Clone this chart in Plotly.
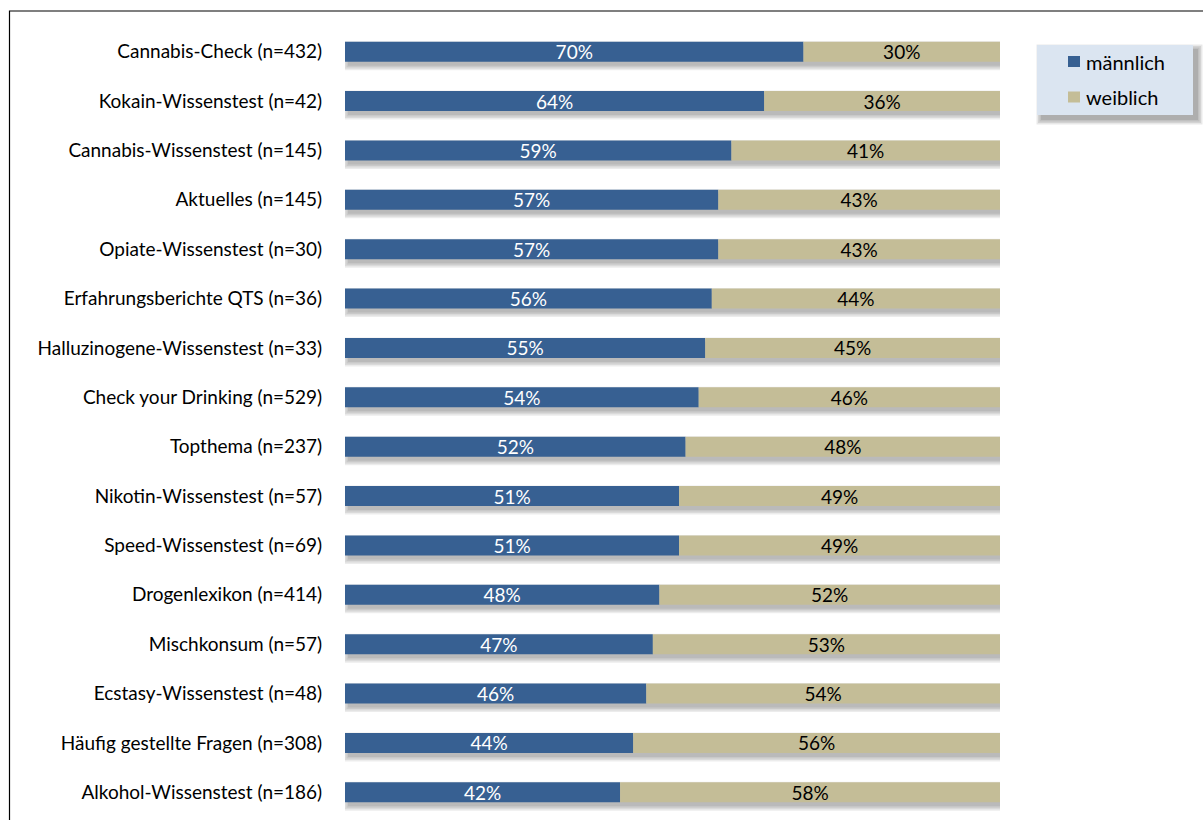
import plotly.graph_objects as go

# Share of male / female users per module (percent)
modules = [
    "Cannabis-Check (n=432)",
    "Kokain-Wissenstest (n=42)",
    "Cannabis-Wissenstest (n=145)",
    "Aktuelles (n=145)",
    "Opiate-Wissenstest (n=30)",
    "Erfahrungsberichte QTS (n=36)",
    "Halluzinogene-Wissenstest (n=33)",
    "Check your Drinking (n=529)",
    "Topthema (n=237)",
    "Nikotin-Wissenstest (n=57)",
    "Speed-Wissenstest (n=69)",
    "Drogenlexikon (n=414)",
    "Mischkonsum (n=57)",
    "Ecstasy-Wissenstest (n=48)",
    "Häufig gestellte Fragen (n=308)",
    "Alkohol-Wissenstest (n=186)",
]
maennlich = [70, 64, 59, 57, 57, 56, 55, 54, 52, 51, 51, 48, 47, 46, 44, 42]
weiblich = [30, 36, 41, 43, 43, 44, 45, 46, 48, 49, 49, 52, 53, 54, 56, 58]
series_names = ["männlich", "weiblich"]

BLUE = "#376092"
TAN = "#C4BD97"
FONT = "Lato"
FS = 19

W, H = 1203, 820
ML, MR, MT, MB = 345, 203, 27, 3
PW, PH = W - ML - MR, H - MT - MB

rows = list(range(len(modules)))
row_px = PH / len(modules)
bar_w = 20 / row_px
totals = [m + f for m, f in zip(maennlich, weiblich)]
px_per_pct = PW / 100.0

fig = go.Figure()

# soft drop shadow behind each bar (stacked translucent layers)
for k in range(4):
    grow_px = 1.5 * k
    dy = 4 / row_px
    dx = 3 / px_per_pct
    g_pct = grow_px / px_per_pct
    g_row = grow_px / row_px
    fig.add_trace(go.Bar(
        y=rows,
        x=[t + 2 * g_pct for t in totals],
        base=[dx - g_pct] * len(rows),
        orientation="h",
        width=bar_w + 2 * g_row,
        offset=-bar_w / 2 + dy - g_row,
        marker=dict(color="rgba(0,0,0,0.075)", line=dict(width=0)),
        hoverinfo="skip",
        showlegend=False,
    ))

fig.add_trace(go.Bar(
    y=rows, x=maennlich, base=[0] * len(rows), orientation="h",
    name=series_names[0], width=bar_w,
    marker=dict(color=BLUE, line=dict(width=0)),
    text=[f"{v}%" for v in maennlich], textposition="inside",
    insidetextanchor="middle",
    textfont=dict(family=FONT, size=FS, color="white"),
    showlegend=False,
))
fig.add_trace(go.Bar(
    y=rows, x=weiblich, base=maennlich, orientation="h",
    name=series_names[1], width=bar_w,
    marker=dict(color=TAN, line=dict(width=0)),
    text=[f"{v}%" for v in weiblich], textposition="inside",
    insidetextanchor="middle",
    textfont=dict(family=FONT, size=FS, color="black"),
    showlegend=False,
))


def px_x(px):
    return (px - ML) / PW


def px_y(py):
    return (H - MB - py) / PH


shapes = []
# outer frame
shapes.append(dict(type="rect", xref="paper", yref="paper",
                   x0=px_x(9.5), x1=px_x(W + 20), y0=px_y(11), y1=px_y(H + 20),
                   line=dict(color="black", width=1.2), fillcolor="rgba(0,0,0,0)"))
# legend box shadow + box
for k in range(4):
    g = 1.5 * k
    shapes.append(dict(type="rect", xref="paper", yref="paper",
                       x0=px_x(1041 - g), x1=px_x(1198 + g),
                       y0=px_y(49 - g), y1=px_y(120 + g),
                       line=dict(width=0), fillcolor="rgba(0,0,0,0.09)"))
shapes.append(dict(type="rect", xref="paper", yref="paper",
                   x0=px_x(1037), x1=px_x(1193), y0=px_y(45), y1=px_y(115),
                   line=dict(width=0), fillcolor="#DBE5F1"))
# legend swatches
for col, cy in [(BLUE, 61.5), (TAN, 97)]:
    shapes.append(dict(type="rect", xref="paper", yref="paper",
                       x0=px_x(1068), x1=px_x(1080),
                       y0=px_y(cy - 5.5), y1=px_y(cy + 5.5),
                       line=dict(width=0), fillcolor=col))

annotations = []
for name, cy in zip(series_names, [61.5, 97]):
    annotations.append(dict(xref="paper", yref="paper", x=px_x(1084), y=px_y(cy),
                            xanchor="left", yanchor="middle", text=name,
                            showarrow=False,
                            font=dict(family=FONT, size=FS + 1, color="black")))

fig.update_layout(
    width=W, height=H,
    margin=dict(l=ML, r=MR, t=MT, b=MB, pad=0),
    barmode="overlay",
    paper_bgcolor="white", plot_bgcolor="white",
    uniformtext=dict(minsize=FS, mode="show"),
    shapes=shapes, annotations=annotations,
    showlegend=False,
    xaxis=dict(range=[0, 100], visible=False, fixedrange=True),
    yaxis=dict(
        range=[len(modules) - 0.5, -0.5],
        tickmode="array", tickvals=rows, ticktext=modules,
        ticks="outside", ticklen=18, tickcolor="rgba(0,0,0,0)",
        showgrid=False, zeroline=False, showline=False,
        tickfont=dict(family=FONT, size=FS, color="black"),
        fixedrange=True,
    ),
    font=dict(family=FONT, size=FS, color="black"),
)

fig.write_html("out.html")
